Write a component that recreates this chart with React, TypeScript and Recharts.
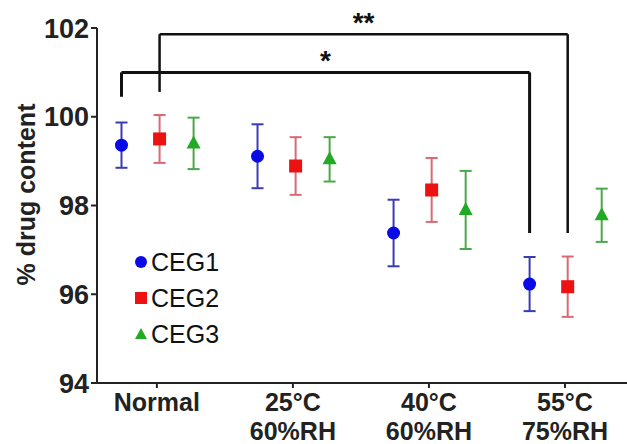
import React from 'react';
import {
  ScatterChart,
  Scatter,
  XAxis,
  YAxis,
  ErrorBar,
  ReferenceLine,
  Legend,
  Label,
} from 'recharts';

// ---- data ----
const categories: string[][] = [['Normal'], ['25°C', '60%RH'], ['40°C', '60%RH'], ['55°C', '75%RH']];
const seriesNames = ['CEG1', 'CEG2', 'CEG3'];
const ceg1Mean = [99.36, 99.11, 97.38, 96.23];
const ceg1Sd = [0.51, 0.72, 0.75, 0.61];
const ceg2Mean = [99.5, 98.89, 98.35, 96.17];
const ceg2Sd = [0.54, 0.65, 0.72, 0.68];
const ceg3Mean = [99.4, 99.04, 97.9, 97.78];
const ceg3Sd = [0.58, 0.5, 0.88, 0.6];
const yTicks = [94, 96, 98, 100, 102];

// significance brackets
const brackets = [
  { fromCat: 0, fromSeries: 0, toCat: 3, toSeries: 0, label: '*', level: 101.0, leftEnd: 100.45, rightEnd: 97.38, width: 3 },
  { fromCat: 0, fromSeries: 1, toCat: 3, toSeries: 1, label: '**', level: 101.86, leftEnd: 100.56, rightEnd: 97.38, width: 2.5 },
];

const offsets = [-0.26, 0.02, 0.27];
const colors = ['#0a0ae6', '#ee1111', '#22aa22'];
const barColors = ['#3b3bb8', '#d86a72', '#4aa84a'];

const build = (means: number[], sds: number[], s: number) =>
  means.map((m, i) => ({ x: i + offsets[s], y: m, err: sds[i] }));

const seriesData = [build(ceg1Mean, ceg1Sd, 0), build(ceg2Mean, ceg2Sd, 1), build(ceg3Mean, ceg3Sd, 2)];

const FONT = '"Liberation Sans", Arial, sans-serif';

const CircleShape = (p: any) => <circle cx={p.cx} cy={p.cy} r={6.5} fill={colors[0]} />;
const SquareShape = (p: any) => <rect x={p.cx - 6.5} y={p.cy - 6.5} width={13} height={13} fill={colors[1]} />;
const TriangleShape = (p: any) => (
  <polygon
    points={`${p.cx},${p.cy - 8} ${p.cx - 7},${p.cy + 5} ${p.cx + 7},${p.cy + 5}`}
    fill={colors[2]}
  />
);
const shapes = [CircleShape, SquareShape, TriangleShape];

const CatTick = (props: any) => {
  const { x, y, payload } = props;
  const lines = categories[Math.round(payload.value)] || [];
  return (
    <text x={x} y={y + 21} textAnchor="middle" fill="#222" fontSize={25} fontWeight="bold" fontFamily={FONT}>
      {lines.map((l, i) => (
        <tspan key={i} x={x} dy={i === 0 ? 0 : 29}>
          {l}
        </tspan>
      ))}
    </text>
  );
};

const YLabel = (props: any) => {
  const vb = props.viewBox || { x: 0, y: 0, width: 0, height: 0 };
  const cx = vb.x + 26;
  const cy = vb.y + vb.height / 2 - 11;
  return (
    <text
      x={cx}
      y={cy}
      transform={`rotate(-90, ${cx}, ${cy})`}
      textAnchor="middle"
      dominantBaseline="central"
      fill="#222"
      fontSize={25}
      fontWeight="bold"
      fontFamily={FONT}
    >
      % drug content
    </text>
  );
};

const LegendIcon = ({ i }: { i: number }) => {
  if (i === 0) return <circle cx={7} cy={7} r={6} fill={colors[0]} />;
  if (i === 1) return <rect x={1} y={1} width={12} height={12} fill={colors[1]} />;
  return <polygon points="7,1 1,12 13,12" fill={colors[2]} />;
};

const LegendContent = () => (
  <div style={{ fontFamily: FONT, fontSize: 25, color: '#111', lineHeight: '36px' }}>
    {seriesNames.map((n, i) => (
      <div key={n} style={{ display: 'flex', alignItems: 'center', height: 36 }}>
        <svg width={15} height={15} style={{ marginRight: 2 }}>
          <LegendIcon i={i} />
        </svg>
        <span>{n}</span>
      </div>
    ))}
  </div>
);

export default function App() {
  return (
    <div style={{ position: 'absolute', left: 0, top: 0, width: 627, height: 444, background: '#fff' }}>
      <ScatterChart width={627} height={444} margin={{ top: 28, right: 0, bottom: 0, left: 0 }}>
        <XAxis
          dataKey="x"
          type="number"
          domain={[-0.44, 3.456]}
          ticks={[0, 1, 2, 3]}
          allowDataOverflow
          height={61}
          tick={<CatTick />}
          tickSize={5}
          axisLine={{ stroke: '#222', strokeWidth: 2 }}
          tickLine={{ stroke: '#222', strokeWidth: 2 }}
        />
        <YAxis
          dataKey="y"
          type="number"
          domain={[94, 102]}
          ticks={yTicks}
          allowDataOverflow
          width={97}
          tickSize={6}
          tickMargin={2}
          axisLine={{ stroke: '#222', strokeWidth: 2 }}
          tickLine={{ stroke: '#222', strokeWidth: 2 }}
          tick={{ fill: '#222', fontSize: 27, fontWeight: 'bold', fontFamily: FONT }}
        >
          <Label content={<YLabel />} position="insideLeft" />
        </YAxis>
        {brackets.map((b, k) => {
          const x1 = b.fromCat + offsets[b.fromSeries];
          const x2 = b.toCat + offsets[b.toSeries];
          const st = { stroke: '#111', strokeWidth: b.width };
          return (
            <React.Fragment key={k}>
              <ReferenceLine
                segment={[{ x: x1, y: b.level }, { x: x2, y: b.level }]}
                ifOverflow="visible"
                {...st}
                label={{
                  value: b.label,
                  position: 'top',
                  offset: 2,
                  style: { fill: '#111', fontSize: 28, fontWeight: 'bold', fontFamily: FONT },
                }}
              />
              <ReferenceLine segment={[{ x: x1, y: b.level }, { x: x1, y: b.leftEnd }]} ifOverflow="visible" {...st} />
              <ReferenceLine segment={[{ x: x2, y: b.level }, { x: x2, y: b.rightEnd }]} ifOverflow="visible" {...st} />
            </React.Fragment>
          );
        })}
        {seriesData.map((d, s) => (
          <Scatter
            key={seriesNames[s]}
            name={seriesNames[s]}
            data={d}
            fill={colors[s]}
            shape={shapes[s]}
            isAnimationActive={false}
          >
            <ErrorBar dataKey="err" direction="y" width={6} stroke={barColors[s]} strokeWidth={2} />
          </Scatter>
        ))}
        <Legend
          layout="vertical"
          align="center"
          verticalAlign="middle"
          content={<LegendContent />}
          wrapperStyle={{ position: 'absolute', left: 134, top: 244, width: 120 }}
        />
      </ScatterChart>
    </div>
  );
}
